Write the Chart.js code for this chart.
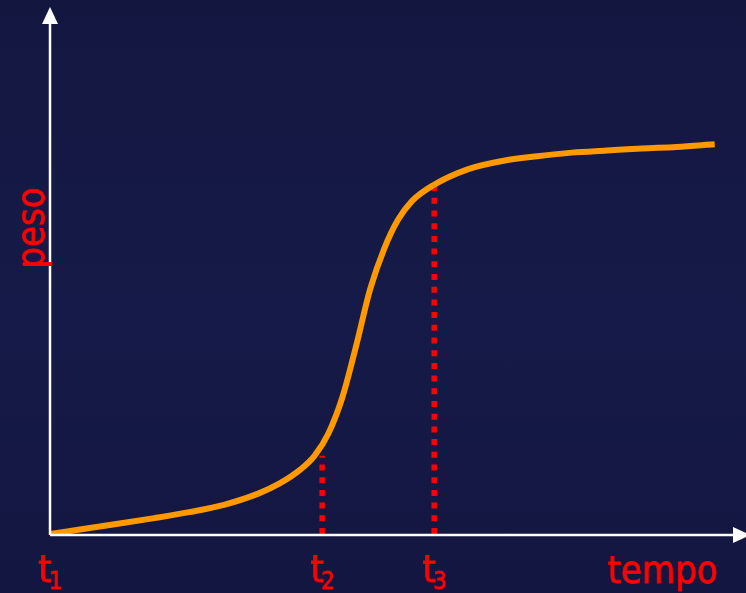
<!DOCTYPE html>
<html>
<head>
<meta charset="utf-8">
<script src="https://cdn.jsdelivr.net/npm/chart.js@4/dist/chart.umd.min.js"></script>
<style>
  html, body { margin: 0; padding: 0; background: #151842; }
  #wrap { width: 746px; height: 593px; position: relative;
    background: linear-gradient(180deg, #131740 0%, #161a48 55%, #131640 100%); }
</style>
</head>
<body>
<div id="wrap"><canvas id="growthChart" width="746" height="593"></canvas></div>
<script>
// curve (tempo 0..100, peso 0..100)
const tempo = [0, 5, 10, 15, 20, 25, 30, 33, 36, 38, 40, 42, 44, 46, 48, 50, 52, 55, 60, 65, 70, 75, 80, 85, 90, 95.5];
const peso = [0, 1.0, 2.0, 3.05, 4.2, 5.6, 7.8, 9.7, 12.4, 15.0, 19.3, 26.2, 36.2, 47.0, 54.7, 60.3, 63.9, 66.9, 70.0, 71.6, 72.5, 73.2, 73.6, 74.0, 74.3, 74.8];

// marked instants and the curve height where the dotted lines stop
const tickNames = ["1", "2", "3"];
const tickTimes = [0, 39.1, 55.2];
const markTimes = [39.1, 55.2];
const markTops = [15.0, 66.9];

const FONT = "'DejaVu Sans Condensed', 'Liberation Sans', sans-serif";
const RED = "#ff0000";

const curve = tempo.map((t, i) => ({ x: t, y: peso[i] }));
const markSets = markTimes.map((t, i) => ({
  data: [{ x: t, y: 0 }, { x: t, y: markTops[i] }],
  borderColor: RED,
  borderWidth: 5.5,
  borderDash: [6, 6.7],
  borderCapStyle: "butt",
  pointRadius: 0,
  tension: 0,
  order: 2,
}));

// text a little heavier, like the original
function heavyText(ctx, s, x, y) {
  ctx.fillText(s, x, y);
  ctx.strokeText(s, x, y);
}

const axesPlugin = {
  id: "axesPlugin",
  afterDatasetsDraw(chart) {
    const { ctx, scales } = chart;
    const x0 = scales.x.getPixelForValue(0);
    const y0 = scales.y.getPixelForValue(0);
    ctx.save();
    ctx.strokeStyle = "#ffffff";
    ctx.fillStyle = "#ffffff";
    ctx.lineWidth = 2.5;
    // y axis + arrow
    ctx.beginPath();
    ctx.moveTo(x0, y0 + 1);
    ctx.lineTo(x0, 20);
    ctx.stroke();
    ctx.beginPath();
    ctx.moveTo(x0, 7);
    ctx.lineTo(x0 - 8, 24);
    ctx.lineTo(x0 + 8, 24);
    ctx.closePath();
    ctx.fill();
    // x axis + arrow
    ctx.beginPath();
    ctx.moveTo(x0, y0 + 1);
    ctx.lineTo(735, y0 + 1);
    ctx.stroke();
    ctx.beginPath();
    ctx.moveTo(750, y0 + 1);
    ctx.lineTo(733, y0 - 7);
    ctx.lineTo(733, y0 + 9);
    ctx.closePath();
    ctx.fill();

    // tick labels t1, t2, t3
    ctx.fillStyle = RED;
    ctx.strokeStyle = RED;
    ctx.lineWidth = 0.8;
    ctx.textBaseline = "alphabetic";
    tickTimes.forEach((t, i) => {
      const px = scales.x.getPixelForValue(t) - 5;
      ctx.font = "38px " + FONT;
      ctx.textAlign = "center";
      heavyText(ctx, "t", px, 582);
      ctx.font = "24px " + FONT;
      ctx.textAlign = "left";
      heavyText(ctx, tickNames[i], px + 4, 589);
    });

    // axis titles
    ctx.font = "38px " + FONT;
    ctx.textAlign = "right";
    heavyText(ctx, "tempo", 718, 583);
    ctx.translate(44, 228);
    ctx.rotate(-Math.PI / 2);
    ctx.textAlign = "center";
    heavyText(ctx, "peso", 0, 0);
    ctx.restore();
  },
};

new Chart(document.getElementById("growthChart"), {
  type: "line",
  data: {
    datasets: [
      {
        data: curve,
        borderColor: "#ff9900",
        borderWidth: 6,
        pointRadius: 0,
        cubicInterpolationMode: "monotone",
        borderCapStyle: "butt",
        order: 1,
      },
      ...markSets,
    ],
  },
  options: {
    responsive: false,
    animation: false,
    layout: { padding: { left: 50, right: 0, top: 13, bottom: 59 } },
    plugins: { legend: { display: false }, tooltip: { enabled: false } },
    scales: {
      x: { type: "linear", min: 0, max: 100, display: false },
      y: { type: "linear", min: 0, max: 100, display: false },
    },
  },
  plugins: [axesPlugin],
});
</script>
</body>
</html>
